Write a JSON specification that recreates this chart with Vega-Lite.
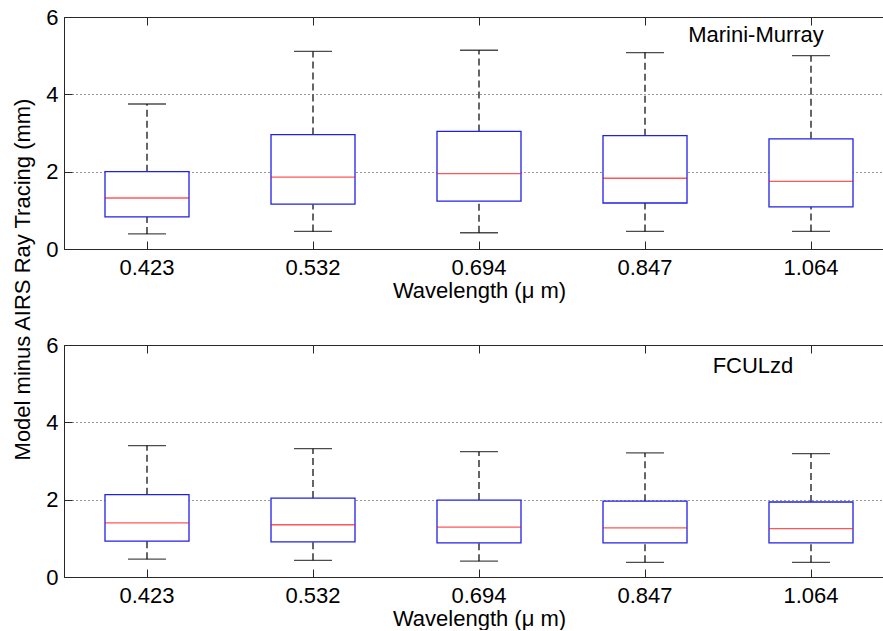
{
  "$schema": "https://vega.github.io/schema/vega-lite/v6.json",
  "autosize": {"type": "pad"},
  "padding": {"left": 10, "top": 5, "right": 0, "bottom": 0},
  "background": "white",
  "datasets": {
    "marini": [
      {"wl": "0.423", "lower": 0.39, "q1": 0.83, "median": 1.32, "q3": 2.00, "upper": 3.75},
      {"wl": "0.532", "lower": 0.455, "q1": 1.16, "median": 1.86, "q3": 2.96, "upper": 5.11},
      {"wl": "0.694", "lower": 0.42, "q1": 1.24, "median": 1.95, "q3": 3.04, "upper": 5.14},
      {"wl": "0.847", "lower": 0.455, "q1": 1.19, "median": 1.83, "q3": 2.93, "upper": 5.08},
      {"wl": "1.064", "lower": 0.455, "q1": 1.09, "median": 1.75, "q3": 2.85, "upper": 5.00}
    ],
    "fculzd": [
      {"wl": "0.423", "lower": 0.46, "q1": 0.93, "median": 1.40, "q3": 2.13, "upper": 3.40},
      {"wl": "0.532", "lower": 0.43, "q1": 0.91, "median": 1.35, "q3": 2.04, "upper": 3.32},
      {"wl": "0.694", "lower": 0.41, "q1": 0.88, "median": 1.29, "q3": 1.99, "upper": 3.24},
      {"wl": "0.847", "lower": 0.38, "q1": 0.88, "median": 1.27, "q3": 1.96, "upper": 3.21},
      {"wl": "1.064", "lower": 0.38, "q1": 0.88, "median": 1.25, "q3": 1.94, "upper": 3.19}
    ]
  },
  "config": {
    "font": "Liberation Sans",
    "view": {"stroke": "#262626", "strokeWidth": 1},
    "axis": {
      "labelFont": "Liberation Sans",
      "labelFontSize": 22,
      "labelColor": "#000000",
      "titleFont": "Liberation Sans",
      "titleFontSize": 22,
      "titleFontWeight": "normal",
      "titleColor": "#000000",
      "tickColor": "#262626",
      "tickSize": -8,
      "domain": false,
      "grid": false
    },
    "axisY": {
      "labelPadding": 14,
      "grid": true,
      "gridDash": [1, 3],
      "gridColor": "#333333",
      "titleX": -42,
      "titleY": -66,
      "titleAngle": -90,
      "titleAlign": "center",
      "titleBaseline": "middle"
    },
    "text": {"font": "Liberation Sans", "fontSize": 22, "color": "#000000"}
  },
  "spacing": 96,
  "bounds": "flush",
  "vconcat": [
    {
      "width": 830,
      "height": 232,
      "data": {"name": "marini"},
      "layer": [
        {
          "mark": {"type": "rule", "color": "#000000", "strokeDash": [7, 4], "strokeWidth": 1.2},
          "encoding": {
            "x": {"field": "wl", "type": "nominal", "sort": ["0.423", "0.532", "0.694", "0.847", "1.064"], "scale": {"paddingInner": 0, "paddingOuter": 0}, "axis": null},
            "y": {"field": "q3", "type": "quantitative", "scale": {"domain": [0, 6], "nice": false, "zero": false}, "axis": {"title": null, "values": [0, 2, 4, 6]}},
            "y2": {"field": "upper"}
          }
        },
        {
          "mark": {"type": "rule", "color": "#000000", "strokeDash": [7, 4], "strokeWidth": 1.2},
          "encoding": {
            "x": {"field": "wl", "type": "nominal", "sort": ["0.423", "0.532", "0.694", "0.847", "1.064"], "axis": null},
            "y": {"field": "lower", "type": "quantitative", "axis": {"title": null, "values": [0, 2, 4, 6]}},
            "y2": {"field": "q1"}
          }
        },
        {
          "mark": {"type": "tick", "color": "#000000", "size": 38, "thickness": 1.3},
          "encoding": {
            "x": {"field": "wl", "type": "nominal", "sort": ["0.423", "0.532", "0.694", "0.847", "1.064"], "axis": null},
            "y": {"field": "upper", "type": "quantitative", "axis": {"title": null, "values": [0, 2, 4, 6]}}
          }
        },
        {
          "mark": {"type": "tick", "color": "#000000", "size": 38, "thickness": 1.3},
          "encoding": {
            "x": {"field": "wl", "type": "nominal", "sort": ["0.423", "0.532", "0.694", "0.847", "1.064"], "axis": null},
            "y": {"field": "lower", "type": "quantitative", "axis": {"title": null, "values": [0, 2, 4, 6]}}
          }
        },
        {
          "mark": {"type": "bar", "size": 84, "fill": "#ffffff", "stroke": "#2020e6", "strokeWidth": 1.3},
          "encoding": {
            "x": {"field": "wl", "type": "nominal", "sort": ["0.423", "0.532", "0.694", "0.847", "1.064"],
              "axis": {"title": "Wavelength (μ m)", "labelAngle": 0, "labelBaseline": "alphabetic", "labelPadding": 33, "titleBaseline": "alphabetic", "titleY": 48.5}},
            "y": {"field": "q1", "type": "quantitative", "axis": {"title": null, "values": [0, 2, 4, 6]}},
            "y2": {"field": "q3"}
          }
        },
        {
          "mark": {"type": "tick", "color": "#ff1010", "size": 84, "thickness": 1.4},
          "encoding": {
            "x": {"field": "wl", "type": "nominal", "sort": ["0.423", "0.532", "0.694", "0.847", "1.064"], "axis": null},
            "y": {"field": "median", "type": "quantitative", "axis": {"title": null, "values": [0, 2, 4, 6]}}
          }
        },
        {
          "mark": {"type": "tick", "opacity": 0},
          "encoding": {
            "x": {"field": "wl", "type": "nominal", "sort": ["0.423", "0.532", "0.694", "0.847", "1.064"],
              "axis": {"orient": "top", "labels": false, "title": null}},
            "y": {"field": "median", "type": "quantitative", "axis": {"title": null, "values": [0, 2, 4, 6]}}
          }
        },
        {
          "data": {"values": [{"label": "Marini-Murray"}]},
          "mark": {"type": "text", "align": "center", "baseline": "alphabetic", "dx": -55},
          "encoding": {
            "x": {"datum": "1.064", "type": "nominal", "axis": null},
            "y": {"datum": 5.36, "type": "quantitative", "axis": {"title": null, "values": [0, 2, 4, 6]}},
            "text": {"field": "label"}
          }
        }
      ],
      "resolve": {"axis": {"x": "independent"}}
    },
    {
      "width": 830,
      "height": 232,
      "data": {"name": "fculzd"},
      "layer": [
        {
          "mark": {"type": "rule", "color": "#000000", "strokeDash": [7, 4], "strokeWidth": 1.2},
          "encoding": {
            "x": {"field": "wl", "type": "nominal", "sort": ["0.423", "0.532", "0.694", "0.847", "1.064"], "scale": {"paddingInner": 0, "paddingOuter": 0}, "axis": null},
            "y": {"field": "q3", "type": "quantitative", "scale": {"domain": [0, 6], "nice": false, "zero": false}, "axis": {"title": "Model minus AIRS Ray Tracing (mm)", "values": [0, 2, 4, 6]}},
            "y2": {"field": "upper"}
          }
        },
        {
          "mark": {"type": "rule", "color": "#000000", "strokeDash": [7, 4], "strokeWidth": 1.2},
          "encoding": {
            "x": {"field": "wl", "type": "nominal", "sort": ["0.423", "0.532", "0.694", "0.847", "1.064"], "axis": null},
            "y": {"field": "lower", "type": "quantitative", "axis": {"title": "Model minus AIRS Ray Tracing (mm)", "values": [0, 2, 4, 6]}},
            "y2": {"field": "q1"}
          }
        },
        {
          "mark": {"type": "tick", "color": "#000000", "size": 38, "thickness": 1.3},
          "encoding": {
            "x": {"field": "wl", "type": "nominal", "sort": ["0.423", "0.532", "0.694", "0.847", "1.064"], "axis": null},
            "y": {"field": "upper", "type": "quantitative", "axis": {"title": "Model minus AIRS Ray Tracing (mm)", "values": [0, 2, 4, 6]}}
          }
        },
        {
          "mark": {"type": "tick", "color": "#000000", "size": 38, "thickness": 1.3},
          "encoding": {
            "x": {"field": "wl", "type": "nominal", "sort": ["0.423", "0.532", "0.694", "0.847", "1.064"], "axis": null},
            "y": {"field": "lower", "type": "quantitative", "axis": {"title": "Model minus AIRS Ray Tracing (mm)", "values": [0, 2, 4, 6]}}
          }
        },
        {
          "mark": {"type": "bar", "size": 84, "fill": "#ffffff", "stroke": "#2020e6", "strokeWidth": 1.3},
          "encoding": {
            "x": {"field": "wl", "type": "nominal", "sort": ["0.423", "0.532", "0.694", "0.847", "1.064"],
              "axis": {"title": "Wavelength (μ m)", "labelAngle": 0, "labelBaseline": "alphabetic", "labelPadding": 33, "titleBaseline": "alphabetic", "titleY": 48.5}},
            "y": {"field": "q1", "type": "quantitative", "axis": {"title": "Model minus AIRS Ray Tracing (mm)", "values": [0, 2, 4, 6]}},
            "y2": {"field": "q3"}
          }
        },
        {
          "mark": {"type": "tick", "color": "#ff1010", "size": 84, "thickness": 1.4},
          "encoding": {
            "x": {"field": "wl", "type": "nominal", "sort": ["0.423", "0.532", "0.694", "0.847", "1.064"], "axis": null},
            "y": {"field": "median", "type": "quantitative", "axis": {"title": "Model minus AIRS Ray Tracing (mm)", "values": [0, 2, 4, 6]}}
          }
        },
        {
          "mark": {"type": "tick", "opacity": 0},
          "encoding": {
            "x": {"field": "wl", "type": "nominal", "sort": ["0.423", "0.532", "0.694", "0.847", "1.064"],
              "axis": {"orient": "top", "labels": false, "title": null}},
            "y": {"field": "median", "type": "quantitative", "axis": {"title": "Model minus AIRS Ray Tracing (mm)", "values": [0, 2, 4, 6]}}
          }
        },
        {
          "data": {"values": [{"label": "FCULzd"}]},
          "mark": {"type": "text", "align": "center", "baseline": "alphabetic", "dx": -58},
          "encoding": {
            "x": {"datum": "1.064", "type": "nominal", "axis": null},
            "y": {"datum": 5.28, "type": "quantitative", "axis": {"title": "Model minus AIRS Ray Tracing (mm)", "values": [0, 2, 4, 6]}},
            "text": {"field": "label"}
          }
        }
      ],
      "resolve": {"axis": {"x": "independent"}}
    }
  ]
}
